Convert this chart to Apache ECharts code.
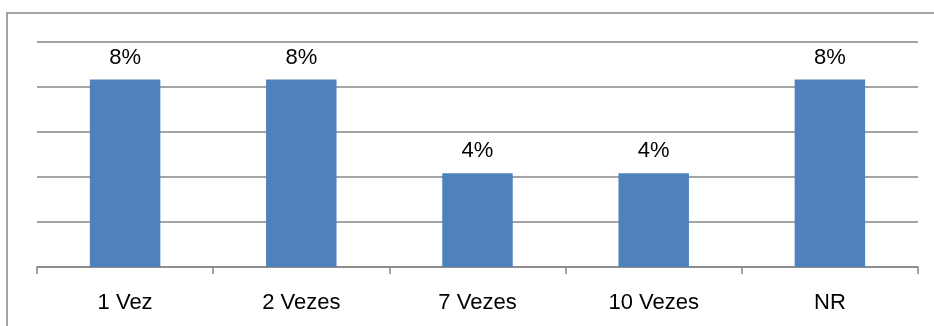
<!DOCTYPE html>
<html>
<head>
<meta charset="utf-8">
<script src="https://cdn.jsdelivr.net/npm/echarts@6/dist/echarts.min.js"></script>
<style>
  html, body { margin: 0; padding: 0; background: #ffffff; }
  #chart { width: 934px; height: 326px; }
</style>
</head>
<body>
<div id="chart"></div>
<script>
// Frequency categories and their share of responses (percent)
const categories = ['1 Vez', '2 Vezes', '7 Vezes', '10 Vezes', 'NR'];
const shares = [8.33, 8.33, 4.17, 4.17, 8.33];

const FONT = '"Liberation Sans", Arial, sans-serif';
const GREY = '#868686';

const chart = echarts.init(document.getElementById('chart'), null, { renderer: 'canvas' });

chart.setOption({
  animation: false,
  backgroundColor: '#ffffff',
  graphic: [{
    type: 'rect',
    shape: { x: 7, y: 13, width: 960, height: 340 },
    style: { fill: 'none', stroke: GREY, lineWidth: 1.5 },
    silent: true
  }],
  grid: { left: 37, right: 16, top: 42, bottom: 59, containLabel: false },
  xAxis: {
    type: 'category',
    data: categories,
    axisLine: { lineStyle: { color: GREY, width: 1.5 } },
    axisTick: { show: true, length: 7, lineStyle: { color: GREY, width: 1.5 } },
    axisLabel: { color: '#000000', fontFamily: FONT, fontSize: 22, margin: 25 }
  },
  yAxis: {
    type: 'value',
    min: 0,
    max: 10,
    interval: 2,
    axisLabel: { show: false },
    axisLine: { show: false },
    axisTick: { show: false },
    splitLine: { lineStyle: { color: GREY, width: 1.5 } }
  },
  series: [{
    type: 'bar',
    data: shares,
    barWidth: '40%',
    itemStyle: { color: '#4F81BD' },
    label: {
      show: true,
      position: 'top',
      distance: 11,
      color: '#000000',
      fontFamily: FONT,
      fontSize: 22,
      formatter: p => Math.round(p.value) + '%'
    }
  }]
});
</script>
</body>
</html>
